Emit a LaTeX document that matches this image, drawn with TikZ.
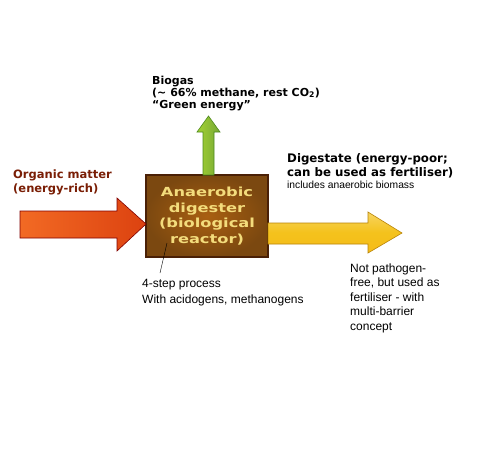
\documentclass[tikz,border=0pt]{standalone}
\usepackage{fontspec}
\setmainfont{Liberation Sans}
\newfontfamily\headfont{DejaVu Sans}
\newfontfamily\widefont{DejaVu Sans}[FakeStretch=1.3]
\usetikzlibrary{positioning}

\definecolor{matterred}{HTML}{7A1E05}
\definecolor{mattertail}{HTML}{F26A24}
\definecolor{matterhead}{HTML}{DC4210}
\definecolor{digbrown}{HTML}{9A5A14}
\definecolor{digedge}{HTML}{4A2006}
\definecolor{digtext}{HTML}{F3DC7C}
\definecolor{gasgreen}{HTML}{8CC63F}
\definecolor{gasedge}{HTML}{4E8A1C}
\definecolor{stategold}{HTML}{F4C21C}
\definecolor{stateedge}{HTML}{B88408}

\tikzset{
  headtext/.style={anchor=base west, align=left, inner sep=0pt, font=\headfont\bfseries\fontsize{11}{12}\selectfont},
  smalltext/.style={anchor=base west, align=left, inner sep=0pt, font=\fontsize{12}{16}\selectfont}
}

\begin{document}
\begin{tikzpicture}[x=1pt,y=-1pt]
  \useasboundingbox[fill=white] (0,0) rectangle (478,450);

  %digester
  \node[draw=digedge, line width=1.6pt, inner color=digbrown!85!orange, outer color=digbrown!80!black,
        minimum width=122pt, minimum height=82pt, inner sep=0pt, align=center, text=digtext,
        font=\widefont\bfseries\fontsize{12.5}{15.5}\selectfont] (digester) at (207,216)
        {Anaerobic\\digester\\(biological\\reactor)};

  %organic matter
  \draw[draw=red!50!black, line width=0.6pt, left color=mattertail, right color=matterhead]
    (20,211) -- (117,211) -- (117,198) -- (146,224) -- (117,251) -- (117,238) -- (20,238) -- cycle;
  \node[headtext, text=matterred, font=\headfont\bfseries\fontsize{11.5}{14}\selectfont] (matter) at (13,192)
    {Organic matter\\(energy-rich)};

  %biogas
  \draw[draw=gasedge, line width=0.6pt, left color=gasgreen!80!yellow, right color=gasgreen!85!black]
    (203,175) -- (203,132) -- (197,132) -- (208.5,116) -- (220,132) -- (214,132) -- (214,175) -- cycle;
  \node[headtext, text=black] (biogas) at (152,108)
    {Biogas\\(\textasciitilde{} 66\% methane, rest CO\textsubscript{2})\\“Green energy”};

  %digestate
  \draw[draw=stateedge, line width=0.6pt, top color=stategold!70!white, bottom color=stategold!90!orange, middle color=stategold]
    (268,223) -- (368,223) -- (368,212) -- (402,233) -- (368,253) -- (368,244) -- (268,244) -- cycle;
  \node[headtext, text=black, font=\headfont\bfseries\fontsize{11.8}{14}\selectfont] (digestate) at (287,176)
    {Digestate (energy-poor;\\can be used as fertiliser)};
  \node[anchor=base west, align=left, inner sep=0pt] (biomass) at (287,188)
    {\fontsize{10.3}{12}\selectfont includes anaerobic biomass};

  %process
  \node[smalltext] (process) at (142,303) {4-step process\\With acidogens, methanogens};
  \coordinate (inside) at (167,243);
  \draw[thin] (160,273) -- (inside);

  %pathogens
  \node[smalltext, font=\fontsize{12}{14.5}\selectfont] (pathogen) at (350,330)
    {Not pathogen-\\free, but used as\\fertiliser - with\\multi-barrier\\concept};

\end{tikzpicture}
\end{document}
